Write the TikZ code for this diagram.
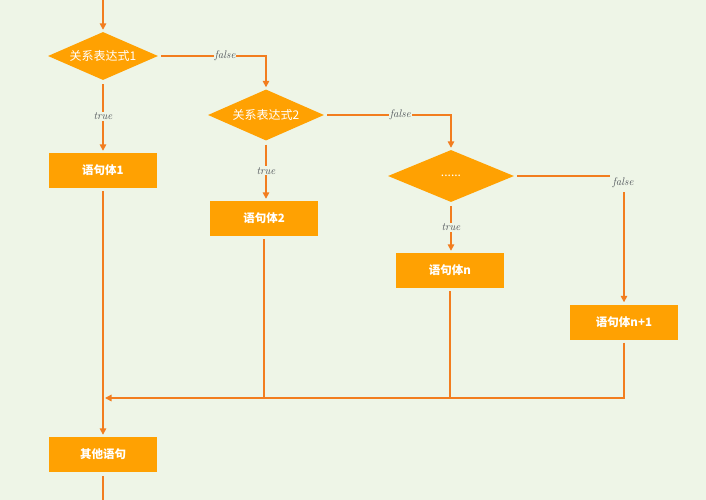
\documentclass[tikz,border=0pt]{standalone}
\usepackage{fontspec}
\newfontfamily\cjk{Noto Sans CJK SC}
\usetikzlibrary{shapes.geometric,arrows.meta}
\definecolor{bg}{HTML}{EEF5E7}
\definecolor{boxfill}{HTML}{FFA102}
\definecolor{edge}{HTML}{F27D1F}
\definecolor{lbltext}{HTML}{4A4F55}
\tikzset{
  stmt/.style={rectangle, fill=boxfill, draw=none, minimum width=108pt, minimum height=35pt, inner sep=0pt, text=white, font=\cjk\bfseries\fontsize{11.5}{13}\selectfont},
  cond/.style={diamond, fill=boxfill, draw=none, inner sep=0pt, text=white, font=\cjk\fontsize{12}{13}\selectfont},
  flow/.style={draw=edge, line width=1.5pt},
  arr/.style={flow, -{Triangle[length=6.5pt,width=6.5pt]}, shorten >=2pt},
  lbl/.style={fill=bg, inner sep=1pt, text=lbltext, font=\itshape\fontsize{11}{12}\selectfont}
}
\begin{document}
\begin{tikzpicture}[x=1pt,y=-1pt]
\fill[bg] (0,0) rectangle (706,500);
\useasboundingbox (0,0) rectangle (706,500);

\node[cond, minimum width=110pt, minimum height=48pt, aspect=2.3] (d1) at (103,56) {关系表达式1};
\node[cond, minimum width=116pt, minimum height=51pt, aspect=2.3] (d2) at (266,115) {关系表达式2};
\node[cond, minimum width=126pt, minimum height=52pt, aspect=2.4] (d3) at (451,176) {......};

\node[stmt] (b1) at (103,170.5) {语句体1};
\node[stmt] (b2) at (264,218.5) {语句体2};
\node[stmt] (b3) at (450,270.5) {语句体n};
\node[stmt] (b4) at (624,322) {语句体n+1};
\node[stmt] (b5) at (103,454.5) {其他语句};

\coordinate (top) at (103,0);
\coordinate (bot) at (103,500);
\coordinate (mL) at (103,398);
\coordinate (m4) at (624,398);

\draw[arr] (top) -- (d1);
\draw[arr, shorten <=4pt] (d1.south) -- node[lbl]{true} (d1.south |- b1.north);
\draw[arr, shorten <=3pt] (d1.east) -- node[lbl, pos=0.62]{false} (d1.east -| d2.north) -- (d2.north);
\draw[arr, shorten <=4pt] (d2.south) -- node[lbl]{true} (d2.south |- b2.north);
\draw[arr, shorten <=3pt] (d2.east) -- node[lbl, pos=0.6]{false} (d2.east -| d3.north) -- (d3.north);
\draw[arr, shorten <=4pt] (d3.south) -- node[lbl]{true} (d3.south |- b3.north);
\draw[arr, shorten <=3pt] (d3.east) -- (d3.east -| b4.north) coordinate (c3) -- (b4.north);
\node[lbl, inner xsep=3pt, inner ysep=4pt] at ([yshift=-7pt,xshift=-1pt]c3) {false};

\draw[flow, shorten <=3pt] (b2.south) -- (b2.south |- mL);
\draw[flow, shorten <=3pt] (b3.south) -- (b3.south |- mL);
\draw[arr, shorten <=3pt] (b4.south) -- (m4) -- (mL);
\draw[arr, shorten <=3pt] (b1.south) -- (b5.north);
\draw[flow, shorten <=4pt] (b5.south) -- (bot);
\end{tikzpicture}
\end{document}
